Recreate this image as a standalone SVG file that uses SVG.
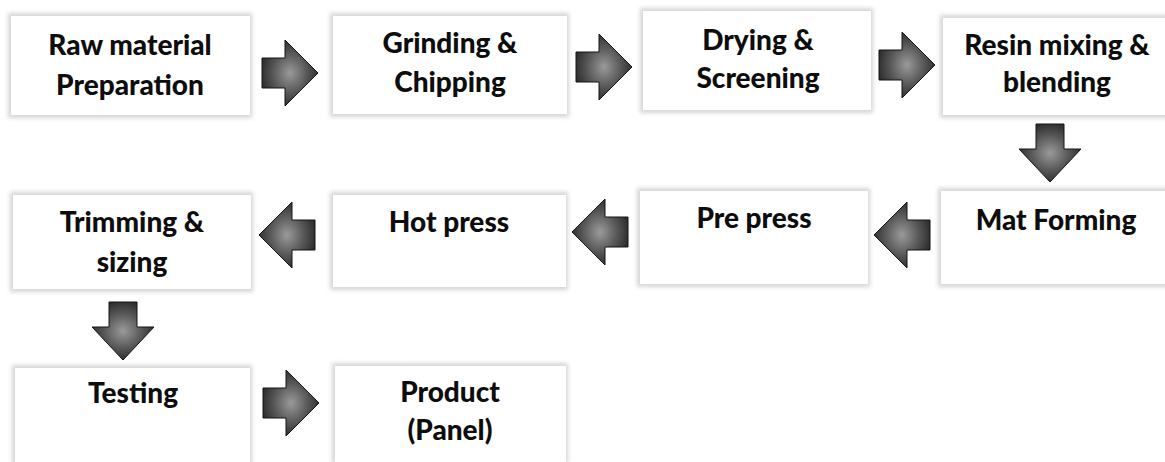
<svg xmlns="http://www.w3.org/2000/svg" width="1165" height="462" viewBox="0 0 1165 462">
  <defs>
    <radialGradient id="arrowFill" cx="50%" cy="50%" r="60%">
      <stop offset="0" stop-color="#9a9a9a"/>
      <stop offset="0.5" stop-color="#585858"/>
      <stop offset="1" stop-color="#1e1e1e"/>
    </radialGradient>
    <filter id="soft" x="-5%" y="-10%" width="110%" height="120%">
      <feGaussianBlur stdDeviation="2.2"/>
    </filter>
    <!-- shapes of the block arrows, drawn around the origin -->
    <polygon id="arrowRight" points="-28,-15 -5,-15 -5,-33 28,0 -5,33 -5,15 -28,15"/>
    <polygon id="arrowDown" points="-14,-28 14,-28 14,-3 31,-3 0,30 -31,-3 -14,-3"/>
  </defs>
  <style>
    .edge { fill: #d6d6d6; filter: url(#soft); }
    .face { fill: #ffffff; }
    .label { font-family: Lato, "Liberation Sans", sans-serif; font-weight: 900; font-size: 28px; fill: #0d0d0d; text-anchor: middle; }
    .arrow { fill: url(#arrowFill); stroke: #151515; stroke-width: 1; }
  </style>
  <rect width="1165" height="462" fill="#ffffff"/>

  <g id="node-raw">
    <rect class="edge" x="8" y="13" width="244" height="105"/>
    <rect class="face" x="11" y="16" width="239" height="99"/>
    <text class="label" x="130" y="55">Raw material</text>
    <text class="label" x="130" y="95">Preparation</text>
  </g>
  <g id="node-grinding">
    <rect class="edge" x="330" y="13" width="239" height="104"/>
    <rect class="face" x="333" y="16" width="234" height="98"/>
    <text class="label" x="450" y="53">Grinding &amp;</text>
    <text class="label" x="450" y="92">Chipping</text>
  </g>
  <g id="node-drying">
    <rect class="edge" x="640" y="8" width="233" height="105"/>
    <rect class="face" x="643" y="11" width="228" height="99"/>
    <text class="label" x="758" y="50">Drying &amp;</text>
    <text class="label" x="758" y="88">Screening</text>
  </g>
  <g id="node-resin">
    <rect class="edge" x="940" y="15" width="232" height="103"/>
    <rect class="face" x="943" y="18" width="230" height="97"/>
    <text class="label" x="1057" y="55">Resin mixing &amp;</text>
    <text class="label" x="1057" y="92">blending</text>
  </g>
  <g id="node-mat">
    <rect class="edge" x="938" y="188" width="234" height="99"/>
    <rect class="face" x="941" y="191" width="232" height="93"/>
    <text class="label" x="1056" y="230">Mat Forming</text>
  </g>
  <g id="node-prepress">
    <rect class="edge" x="637" y="188" width="233" height="99"/>
    <rect class="face" x="640" y="191" width="228" height="93"/>
    <text class="label" x="754" y="228">Pre press</text>
  </g>
  <g id="node-hotpress">
    <rect class="edge" x="330" y="192" width="238" height="98"/>
    <rect class="face" x="333" y="195" width="233" height="92"/>
    <text class="label" x="449" y="232">Hot press</text>
  </g>
  <g id="node-trimming">
    <rect class="edge" x="10" y="192" width="243" height="100"/>
    <rect class="face" x="13" y="195" width="238" height="94"/>
    <text class="label" x="132" y="232">Trimming &amp;</text>
    <text class="label" x="132" y="272">sizing</text>
  </g>
  <g id="node-testing">
    <rect class="edge" x="12" y="365" width="240" height="100"/>
    <rect class="face" x="15" y="368" width="235" height="97"/>
    <text class="label" x="133" y="403">Testing</text>
  </g>
  <g id="node-product">
    <rect class="edge" x="332" y="363" width="236" height="100"/>
    <rect class="face" x="335" y="366" width="231" height="97"/>
    <text class="label" x="450" y="402">Product</text>
    <text class="label" x="450" y="440">(Panel)</text>
  </g>

  <g id="connectors">
    <use href="#arrowRight" class="arrow" transform="translate(290,73)"/>
    <use href="#arrowRight" class="arrow" transform="translate(604,67)"/>
    <use href="#arrowRight" class="arrow" transform="translate(907,65)"/>
    <use href="#arrowDown" class="arrow" transform="translate(1050,152)"/>
    <use href="#arrowRight" class="arrow" transform="translate(902,235) rotate(180)"/>
    <use href="#arrowRight" class="arrow" transform="translate(600,232) rotate(180)"/>
    <use href="#arrowRight" class="arrow" transform="translate(287,235) rotate(180)"/>
    <use href="#arrowDown" class="arrow" transform="translate(123,330)"/>
    <use href="#arrowRight" class="arrow" transform="translate(291,403)"/>
  </g>
</svg>
